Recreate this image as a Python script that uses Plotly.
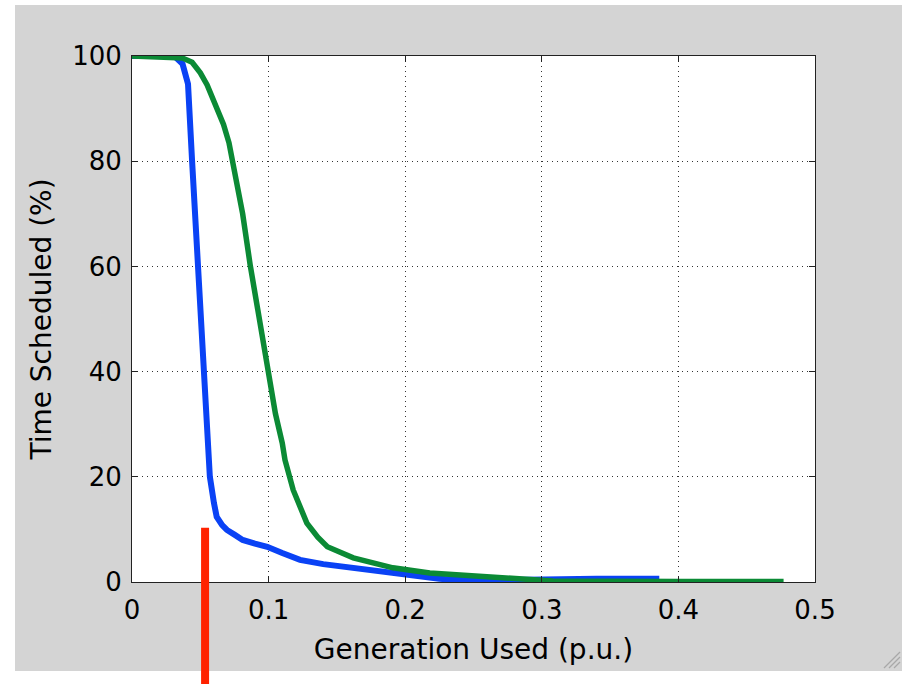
import plotly.graph_objects as go

# ---- data ----
blue_x = [0.0, 0.031, 0.037, 0.041, 0.044, 0.048, 0.052, 0.055, 0.057, 0.060, 0.062,
          0.066, 0.0695, 0.075, 0.081, 0.090, 0.099, 0.110, 0.123, 0.140, 0.160,
          0.182, 0.191, 0.205, 0.225, 0.247, 0.270, 0.310, 0.340, 0.386]
blue_y = [100.0, 100.0, 98.5, 94.7, 80.0, 60.0, 40.0, 25.0, 20.0, 15.0, 12.4,
          10.8, 9.9, 9.0, 8.0, 7.3, 6.7, 5.5, 4.2, 3.4, 2.7,
          2.2, 1.7, 1.2, 0.6, 0.3, 0.4, 0.6, 0.6, 0.6]

green_x = [0.0, 0.037, 0.044, 0.050, 0.055, 0.059, 0.063, 0.067, 0.071, 0.0755, 0.081,
           0.0865, 0.093, 0.099, 0.105, 0.110, 0.112, 0.118, 0.128, 0.136, 0.143,
           0.162, 0.182, 0.191, 0.218, 0.255, 0.284, 0.308, 0.400, 0.477]
green_y = [100.0, 99.6, 98.8, 96.8, 94.5, 92.0, 90.0, 87.0, 83.5, 77.8, 70.0,
           60.3, 50.0, 40.3, 32.0, 26.4, 23.2, 17.5, 11.2, 8.5, 6.7,
           4.6, 3.2, 2.7, 1.7, 1.0, 0.6, 0.2, 0.1, 0.1]

marker_x = 0.0535      # red vertical marker position (p.u.)
marker_top = 10.3      # top of the red marker (%)

x_ticks = [0, 0.1, 0.2, 0.3, 0.4, 0.5]
x_tick_labels = ["0", "0.1", "0.2", "0.3", "0.4", "0.5"]
y_ticks = [0, 20, 40, 60, 80, 100]
y_tick_labels = ["0", "20", "40", "60", "80", "100"]
x_range = [0, 0.5]
y_range = [0, 100]

FONT = "DejaVu Sans"
BG = "#d4d4d4"

fig = go.Figure()
fig.add_trace(go.Scatter(x=blue_x, y=blue_y, mode="lines",
                         line=dict(color="#0a42f5", width=6), showlegend=False))
fig.add_trace(go.Scatter(x=green_x, y=green_y, mode="lines",
                         line=dict(color="#0b8a35", width=5.5), showlegend=False))

marker_top_paper = (marker_top - y_range[0]) / (y_range[1] - y_range[0])

shapes = [
    # gray figure window
    dict(type="rect", xref="paper", yref="paper", x0=-0.1713, x1=1.1274,
         y0=-0.1692, y1=1.0970, fillcolor=BG, line=dict(width=0), layer="below"),
    # white axes area
    dict(type="rect", xref="paper", yref="paper", x0=0, x1=1, y0=0, y1=1,
         fillcolor="white", line=dict(width=0), layer="below"),
    # red marker
    dict(type="line", xref="x", yref="paper", x0=marker_x, x1=marker_x,
         y0=-0.3, y1=marker_top_paper, line=dict(color="#ff2200", width=8),
         layer="above"),
]
# resize grip in the bottom-right corner
for d in [0, 5, 10]:
    x1p, y1p = 900, 652 + d
    x0p, y0p = 884 + d, 668
    shapes.append(dict(type="line", xref="paper", yref="paper",
                       x0=(x0p - 132) / 683, y0=(582 - y0p) / 526,
                       x1=(x1p - 132) / 683, y1=(582 - y1p) / 526,
                       line=dict(color="#a8a8a8", width=1.2)))

axis_common = dict(
    showline=True, linecolor="#222222", linewidth=1, mirror="ticks",
    ticks="inside", ticklen=6, tickcolor="#222222", tickwidth=1,
    showgrid=True, gridcolor="#333333", gridwidth=1, griddash="1px,4px",
    zeroline=False, tickfont=dict(family=FONT, size=26, color="black"),
)

fig.update_xaxes(range=x_range, tickvals=x_ticks, ticktext=x_tick_labels,
                 title=dict(text="Generation Used (p.u.)",
                            font=dict(family=FONT, size=28, color="black"),
                            standoff=15),
                 ticklabelstandoff=5, **axis_common)
fig.update_yaxes(range=y_range, tickvals=y_ticks, ticktext=y_tick_labels,
                 title=dict(text="Time Scheduled (%)",
                            font=dict(family=FONT, size=28, color="black"),
                            standoff=12),
                 ticklabelstandoff=4, **axis_common)

fig.update_layout(
    width=907, height=684,
    margin=dict(l=132, r=92, t=56, b=102, pad=0),
    paper_bgcolor="white", plot_bgcolor="white",
    shapes=shapes, showlegend=False,
)

fig.write_html("out.html")
